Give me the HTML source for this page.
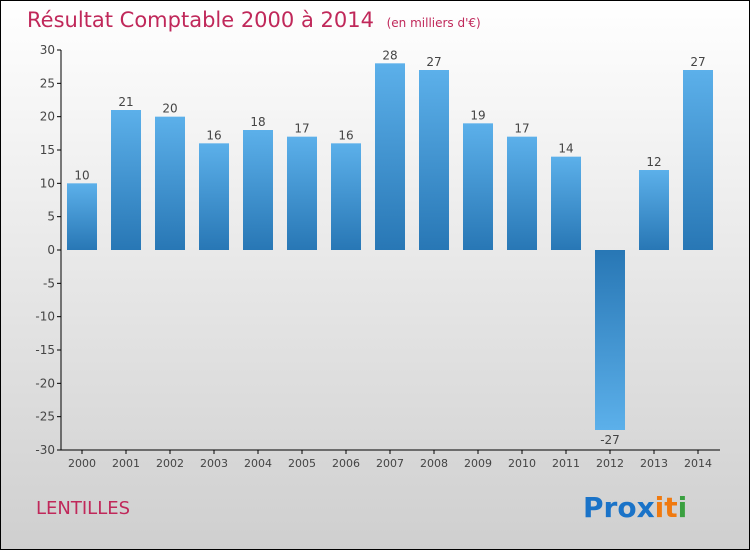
<!DOCTYPE html>
<html><head><meta charset="utf-8"><style>
body{margin:0}
#c{width:750px;height:550px;position:relative;font-family:"DejaVu Sans","Liberation Sans",sans-serif}
</style></head><body>
<div id="c">
<svg width="750" height="550" xmlns="http://www.w3.org/2000/svg">
<defs>
<linearGradient id="bg" x1="0" y1="0" x2="0" y2="1"><stop offset="0" stop-color="#ffffff"/><stop offset="1" stop-color="#cfcfcf"/></linearGradient>
<linearGradient id="bp" x1="0" y1="0" x2="0" y2="1"><stop offset="0" stop-color="#5cb0ea"/><stop offset="1" stop-color="#2877b5"/></linearGradient>
<linearGradient id="bn" x1="0" y1="0" x2="0" y2="1"><stop offset="0" stop-color="#2877b5"/><stop offset="1" stop-color="#5cb0ea"/></linearGradient>
</defs>
<rect x="0.5" y="0.5" width="749" height="549" fill="url(#bg)" stroke="#000"/>
<text x="27" y="27" font-size="21" fill="#c0285a">Résultat Comptable 2000 à 2014 <tspan font-size="12" dx="6">(en milliers d'€)</tspan></text>
<g id="plot"></g>
<text x="36" y="514" font-size="18" fill="#c0285a">LENTILLES</text>
<text x="583" y="517" font-size="28" font-weight="bold"><tspan fill="#1a73c8">Pro</tspan><tspan fill="#1a73c8">x</tspan><tspan fill="#f07a10">i</tspan><tspan fill="#f07a10">t</tspan><tspan fill="#3aa040">i</tspan></text>
</svg>
</div>
<script>
const years=["2000","2001","2002","2003","2004","2005","2006","2007","2008","2009","2010","2011","2012","2013","2014"];
const values=[10,21,20,16,18,17,16,28,27,19,17,14,-27,12,27];
const yTicks=[30,25,20,15,10,5,0,-5,-10,-15,-20,-25,-30];
const NS="http://www.w3.org/2000/svg";
const g=document.getElementById('plot');
const x0=61,x1=720,yTop=50,yBot=450,vMax=30,vMin=-30;
const y=v=>yTop+(vMax-v)/(vMax-vMin)*(yBot-yTop);
const step=44,first=82,bw=30;
const xc=i=>first+i*step;
function el(t,a,txt){const e=document.createElementNS(NS,t);for(const k in a)e.setAttribute(k,a[k]);if(txt!=null)e.textContent=txt;g.appendChild(e);return e;}
let ax=el('line',{x1:x0,y1:yTop,x2:x0,y2:yBot,stroke:'#000'});

let bx=el('line',{x1:x0,y1:yBot,x2:x1,y2:yBot,stroke:'#000'});

yTicks.forEach(v=>{
 let t=el('line',{x1:x0-4,y1:y(v),x2:x0,y2:y(v),stroke:'#000'});
 
 let l=el('text',{x:x0-6,y:y(v)+4,'font-size':12,'text-anchor':'end',fill:'#444'},String(v));
 
});
years.forEach((yr,i)=>{
 let t=el('line',{x1:xc(i),y1:yBot,x2:xc(i),y2:yBot+4,stroke:'#000'});
 
 let l=el('text',{x:xc(i),y:yBot+17,'font-size':11,'text-anchor':'middle',fill:'#444'},yr);
 
 const v=values[i];
 const top=Math.min(y(v),y(0)),h=Math.abs(y(v)-y(0));
 let b=el('rect',{x:xc(i)-bw/2,y:top,width:bw,height:h,fill:v>=0?'url(#bp)':'url(#bn)'});
 
 let vl=el('text',{x:xc(i),y:v>=0?y(v)-4:y(v)+14,'font-size':12,'text-anchor':'middle',fill:'#444'},String(v));
 
});
</script>
</body></html>
